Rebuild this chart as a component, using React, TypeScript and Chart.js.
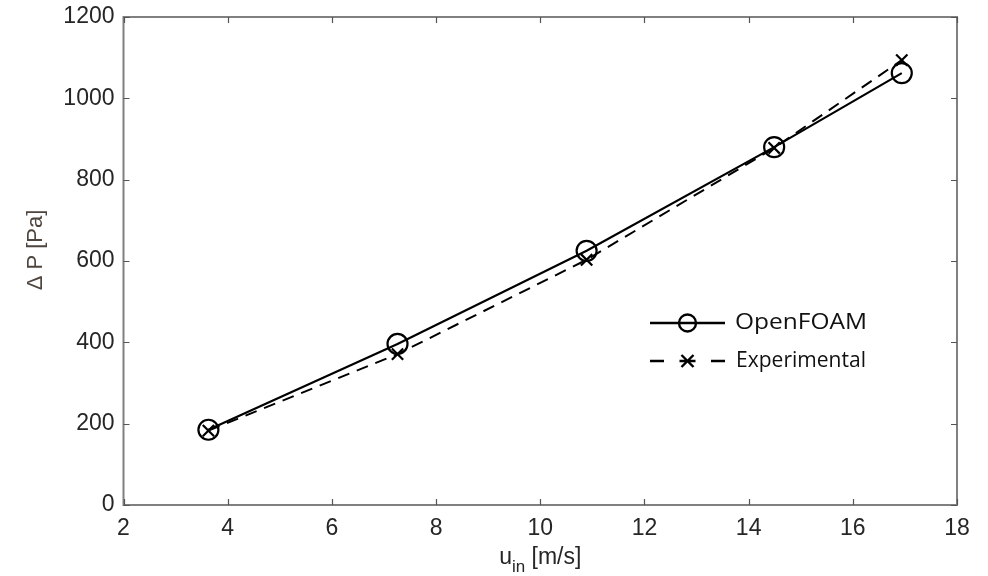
import React, { useEffect, useRef } from "react";
import { Chart, registerables } from "chart.js";

Chart.register(...registerables);

const uIn = [3.63, 7.26, 10.89, 14.49, 16.94];
const openFoam = [185, 396, 625, 880, 1062];
const experimental = [183, 371, 603, 878, 1094];
const xTicks = [2, 4, 6, 8, 10, 12, 14, 16, 18];
const yTicks = [0, 200, 400, 600, 800, 1000, 1200];

const TEXT_COLOR = "#262626";
const AXIS_COLOR = "#808080";

const framePlugin = {
  id: "frame",
  afterDraw(chart: any) {
    const { ctx, chartArea: a, scales } = chart;
    const xs = scales.x;
    const ys = scales.y;
    ctx.save();
    ctx.strokeStyle = AXIS_COLOR;
    ctx.lineWidth = 2;
    ctx.strokeRect(a.left, a.top, a.right - a.left, a.bottom - a.top);
    ctx.lineWidth = 1.2;
    ctx.strokeStyle = "#555";
    const tl = 6;
    for (const v of xTicks) {
      const px = Math.round(xs.getPixelForValue(v)) + 0.5;
      ctx.beginPath();
      ctx.moveTo(px, a.bottom);
      ctx.lineTo(px, a.bottom - tl);
      ctx.moveTo(px, a.top);
      ctx.lineTo(px, a.top + tl);
      ctx.stroke();
    }
    for (const v of yTicks) {
      const py = Math.round(ys.getPixelForValue(v)) + 0.5;
      ctx.beginPath();
      ctx.moveTo(a.left, py);
      ctx.lineTo(a.left + tl, py);
      ctx.moveTo(a.right, py);
      ctx.lineTo(a.right - tl, py);
      ctx.stroke();
    }
    // x title
    ctx.fillStyle = TEXT_COLOR;
    const mainFont = "23px 'Liberation Sans', Arial, sans-serif";
    const subFont = "17px 'Liberation Sans', Arial, sans-serif";
    ctx.textBaseline = "alphabetic";
    const cx = (a.left + a.right) / 2;
    ctx.font = mainFont;
    const wU = ctx.measureText("u").width;
    const wRest = ctx.measureText(" [m/s]").width;
    ctx.font = subFont;
    const wSub = ctx.measureText("in").width;
    const x0 = cx - (wU + wSub + wRest) / 2;
    const base = 564;
    ctx.textAlign = "left";
    ctx.font = mainFont;
    ctx.fillText("u", x0, base);
    ctx.font = subFont;
    ctx.fillText("in", x0 + wU, base + 8);
    ctx.font = mainFont;
    ctx.fillText(" [m/s]", x0 + wU + wSub, base);

    // y title
    ctx.save();
    ctx.translate(42, 250);
    ctx.rotate(-Math.PI / 2);
    ctx.textAlign = "center";
    ctx.fillStyle = "#4e453e";
    ctx.font = "22px 'Liberation Sans', Arial, sans-serif";
    ctx.fillText("\u0394 P [Pa]", 0, 0);
    ctx.restore();

    // legend
    const lx0 = 650;
    const lx1 = 725;
    const lmid = (lx0 + lx1) / 2;
    const r1 = 323;
    const r2 = 361;
    ctx.strokeStyle = "#000";
    ctx.lineWidth = 2.4;
    ctx.beginPath();
    ctx.moveTo(lx0, r1);
    ctx.lineTo(lx1, r1);
    ctx.stroke();
    ctx.beginPath();
    ctx.arc(lmid, r1, 8.5, 0, Math.PI * 2);
    ctx.stroke();
    ctx.beginPath();
    ctx.moveTo(lx0, r2);
    ctx.lineTo(lx0 + 14, r2);
    ctx.moveTo(lmid - 8, r2);
    ctx.lineTo(lmid + 8, r2);
    ctx.moveTo(lx1 - 14, r2);
    ctx.lineTo(lx1, r2);
    ctx.moveTo(lmid - 6, r2 - 6);
    ctx.lineTo(lmid + 6, r2 + 6);
    ctx.moveTo(lmid + 6, r2 - 6);
    ctx.lineTo(lmid - 6, r2 + 6);
    ctx.stroke();

    ctx.fillStyle = "#111";
    ctx.textAlign = "left";
    ctx.textBaseline = "middle";
    const lfont = "21px 'Open Sans', 'Noto Sans', sans-serif";
    const drawStretched = (t: string, x: number, y: number, w: number) => {
      ctx.font = lfont;
      const m = ctx.measureText(t).width;
      ctx.save();
      ctx.translate(x, y);
      ctx.scale(w / m, 1);
      ctx.fillText(t, 0, 0);
      ctx.restore();
    };
    drawStretched("OpenFOAM", 735, r1, 132);
    drawStretched("Experimental", 736, r2, 130);
    ctx.restore();
  },
};

export default function App() {
  const ref = useRef<HTMLCanvasElement | null>(null);
  useEffect(() => {
    if (!ref.current) return;
    const chart = new Chart(ref.current, {
      type: "line",
      data: {
        datasets: [
          {
            label: "OpenFOAM",
            data: uIn.map((x, i) => ({ x, y: openFoam[i] })),
            borderColor: "#000",
            borderWidth: 2.2,
            pointStyle: "circle",
            pointRadius: 10,
            pointBorderWidth: 2.2,
            pointBorderColor: "#000",
            pointBackgroundColor: "rgba(0,0,0,0)",
            tension: 0,
            fill: false,
          },
          {
            label: "Experimental",
            data: uIn.map((x, i) => ({ x, y: experimental[i] })),
            borderColor: "#000",
            borderWidth: 2,
            borderDash: [12, 8],
            pointStyle: "crossRot",
            pointRadius: 8,
            pointBorderWidth: 2.2,
            pointBorderColor: "#000",
            tension: 0,
            fill: false,
          },
        ],
      },
      options: {
        responsive: false,
        animation: false,
        layout: { padding: { left: 0, top: 17, right: 31, bottom: 0 } },
        plugins: { legend: { display: false }, tooltip: { enabled: false } },
        scales: {
          x: {
            type: "linear",
            min: 2,
            max: 18,
            afterBuildTicks: (s: any) => {
              s.ticks = xTicks.map((v) => ({ value: v }));
            },
            afterFit: (s: any) => {
              s.height = 71;
              s.paddingLeft = 0;
              s.paddingRight = 0;
            },
            grid: { display: false, drawTicks: false },
            border: { display: false },
            ticks: {
              color: TEXT_COLOR,
              font: { family: "'Liberation Sans', Arial, sans-serif", size: 23 },
              padding: 10,
              maxRotation: 0,
              callback: (v: any) => String(v),
            },
          },
          y: {
            type: "linear",
            min: 0,
            max: 1200,
            afterBuildTicks: (s: any) => {
              s.ticks = yTicks.map((v) => ({ value: v }));
            },
            afterFit: (s: any) => {
              s.width = 123.5;
              s.paddingTop = 0;
              s.paddingBottom = 0;
            },
            grid: { display: false, drawTicks: false },
            border: { display: false },
            ticks: {
              color: TEXT_COLOR,
              font: { family: "'Liberation Sans', Arial, sans-serif", size: 23 },
              padding: 9,
              callback: (v: any) => String(v),
            },
          },
        },
      },
      plugins: [framePlugin],
    });
    return () => chart.destroy();
  }, []);
  return (
    <div style={{ position: "absolute", left: 0, top: 0, width: 988, height: 576, background: "#fff" }}>
      <canvas ref={ref} width={988} height={576} />
    </div>
  );
}
